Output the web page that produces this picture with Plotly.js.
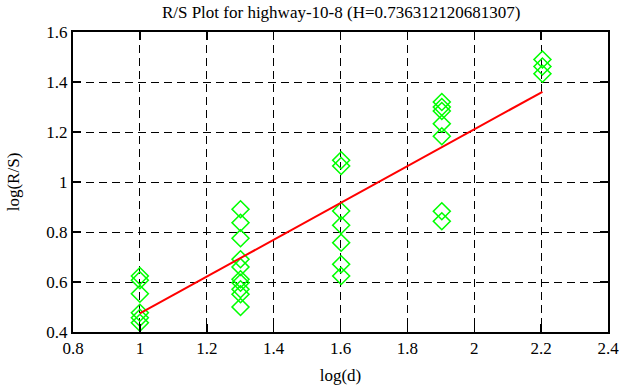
<!DOCTYPE html>
<html><head><meta charset="utf-8">
<script src="https://cdn.plot.ly/plotly-3.0.1.min.js"></script>
<style>html,body{margin:0;padding:0;background:#fff}#plot{width:626px;height:387px}</style>
</head><body><div id="plot"></div>
<script>
const logD = [1,1,1,1,1,1,
  1.301,1.301,1.301,1.301,1.301,1.301,1.301,1.301,1.301,1.301,
  1.602,1.602,1.602,1.602,1.602,1.602,1.602,
  1.903,1.903,1.903,1.903,1.903,1.903,1.903,
  2.204,2.204,2.204];
const logRS = [0.624,0.607,0.553,0.477,0.457,0.437,
  0.891,0.837,0.775,0.691,0.66,0.611,0.597,0.571,0.551,0.50,
  1.087,1.064,0.884,0.827,0.757,0.671,0.624,
  1.32,1.30,1.284,1.233,1.183,0.883,0.843,
  1.49,1.462,1.433];
const H = 0.736312120681307;
const intercept = -0.262;
const fitX = [1, 2.204];
const fitY = fitX.map(x => intercept + H * x);
const titleText = 'R/S Plot for highway-10-8 (H=0.736312120681307)';
const fam = 'Liberation Serif';
const font = {family: fam, size: 17, color: '#000'};
function axisCommon() {
  return {
    showline: true, linecolor: '#000', linewidth: 2, mirror: 'ticks',
    ticks: 'inside', ticklen: 8, tickwidth: 1.5, tickcolor: '#000',
    showgrid: true, gridcolor: '#000', gridwidth: 1, griddash: '8px,5px',
    zeroline: false, tickfont: {family: fam, size: 17, color: '#000'}
  };
}
Plotly.newPlot('plot', [
  {x: logD, y: logRS, mode: 'markers', type: 'scatter',
   marker: {symbol: 'diamond-open', size: 13, color: '#00ff00', line: {width: 1.6, color: '#00ff00'}}},
  {x: fitX, y: fitY, mode: 'lines', type: 'scatter', line: {color: '#ff0000', width: 2}}
], {
  width: 626, height: 387,
  margin: {l: 73, r: 18, t: 32, b: 55},
  showlegend: false,
  paper_bgcolor: '#fff', plot_bgcolor: '#fff',
  font: font,
  title: {text: titleText, font: font, x: 0.545, xanchor: 'center', y: 0.985, yanchor: 'top'},
  xaxis: Object.assign(axisCommon(), {range: [0.8, 2.4], dtick: 0.2, tick0: 0.8,
    title: {text: 'log(d)', font: font, standoff: 12}}),
  yaxis: Object.assign(axisCommon(), {range: [0.4, 1.6], dtick: 0.2, tick0: 0.4,
    title: {text: 'log(R/S)', font: font, standoff: 22}})
}, {displayModeBar: false, staticPlot: true});
</script></body></html>
